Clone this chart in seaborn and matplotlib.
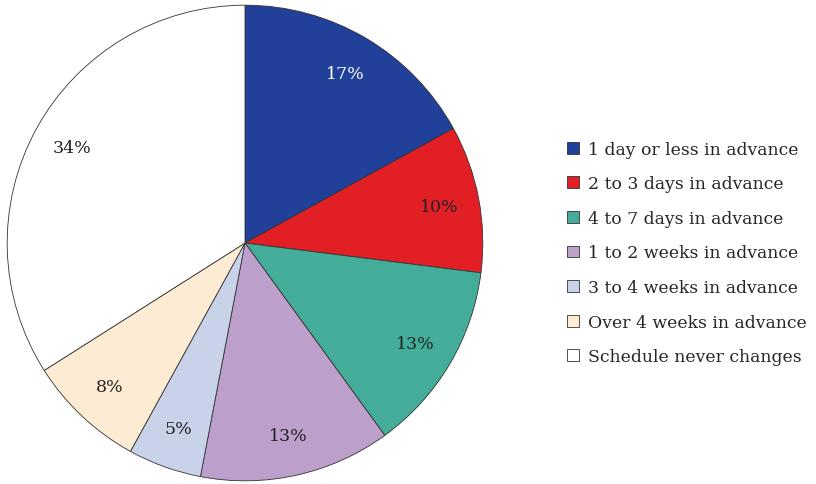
import matplotlib
matplotlib.use("Agg")
import matplotlib.pyplot as plt
import seaborn as sns
from matplotlib.patches import Patch

sns.set_style("white")
plt.rcParams["font.family"] = ["DejaVu Serif"]

categories = [
    "1 day or less in advance",
    "2 to 3 days in advance",
    "4 to 7 days in advance",
    "1 to 2 weeks in advance",
    "3 to 4 weeks in advance",
    "Over 4 weeks in advance",
    "Schedule never changes",
]
shares = [17, 10, 13, 13, 5, 8, 34]
colors = ["#21409a", "#e31f26", "#43ad9a", "#bd9fcb", "#c8d3ea", "#fdebd3", "#ffffff"]
label_colors = ["white", "#222222", "#222222", "#222222", "#222222", "#222222", "#222222"]

W, H = 816, 485
fig = plt.figure(figsize=(W / 100, H / 100), dpi=100)
cx, cy, r = 245, 244, 239
ax = fig.add_axes([(cx - r) / W, (H - cy - r) / H, 2 * r / W, 2 * r / H])

wedges, texts = ax.pie(
    shares,
    colors=colors,
    startangle=90,
    counterclock=False,
    labels=[f"{v}%" for v in shares],
    labeldistance=0.83,
    wedgeprops=dict(edgecolor="#333333", linewidth=0.6),
    textprops=dict(fontsize=12.5),
)
for t, c in zip(texts, label_colors):
    t.set_color(c)
    t.set_ha("center")
    t.set_va("center")
ax.set_aspect("equal")
ax.set_xlim(-1.005, 1.005)
ax.set_ylim(-1.005, 1.005)
ax.axis("off")

handles = [Patch(facecolor=c, edgecolor="#333333", linewidth=0.6) for c in colors]
fig.legend(
    handles,
    categories,
    loc="center left",
    bbox_to_anchor=(567 / W, 1 - 254 / H),
    frameon=False,
    fontsize=12.4,
    handlelength=0.68,
    handleheight=0.68,
    handletextpad=0.55,
    labelspacing=1.02,
    borderaxespad=0,
    borderpad=0,
)

fig.savefig("out.png", dpi=100, facecolor="white")
